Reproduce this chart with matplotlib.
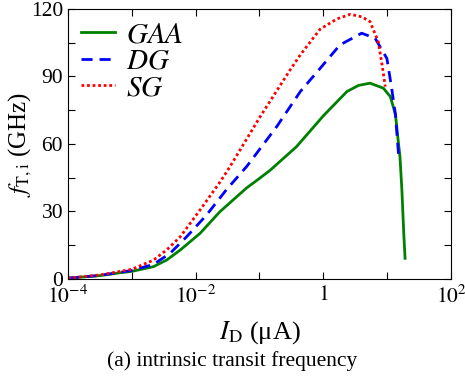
import numpy as np
import matplotlib
matplotlib.use('Agg')
import matplotlib.pyplot as plt

plt.rcParams['font.family'] = ['Liberation Serif', 'DejaVu Serif']
plt.rcParams['mathtext.fontset'] = 'stix'

# log10 of drain current (uA) and intrinsic transit frequency (GHz)
gaaLogI = [-4, -3.5, -3.18, -3, -2.66, -2.45, -2.24, -1.93, -1.62, -1.2, -1.0, -0.83,
           -0.42, 0.0, 0.37, 0.55, 0.73, 0.94, 1.05, 1.13, 1.17, 1.2, 1.23, 1.26, 1.28]
gaaFt = [0.4, 1.5, 2.8, 3.4, 5.5, 8.5, 12.9, 20.3, 29.9, 40.5, 44.7, 48.4,
         58.8, 72.5, 83.3, 86, 87, 84.8, 81, 73, 62, 54.4, 39.6, 20, 9.2]

dgLogI = [-4, -3.5, -3, -2.66, -2.4, -2.14, -1.83, -1.52, -1.2, -0.73, -0.36, -0.05,
          0.26, 0.6, 0.81, 0.995, 1.07, 1.13, 1.18]
dgFt = [0.4, 1.6, 3.8, 6.5, 11.4, 18.8, 28.4, 39.6, 50, 67.7, 83.3, 93.6,
        104, 109.2, 107, 98, 84.8, 72.9, 54.4]

sgLogI = [-4, -3.5, -3, -2.66, -2.45, -2.24, -1.93, -1.62, -1.46, -0.99, -0.52, -0.36,
          -0.05, 0.21, 0.42, 0.6, 0.73, 0.86, 0.92, 0.97]
sgFt = [0.4, 1.8, 4.3, 8.4, 13, 18.8, 30.7, 43, 50, 72.1, 92.9, 99.6,
        111, 115.5, 117.6, 116.5, 114.4, 105.5, 95.1, 85.5]

xTicks = [1e-4, 1e-3, 1e-2, 1e-1, 1, 1e1, 1e2]
xTickLabels = ['$10^{-4}$', '', '$10^{-2}$', '', '$1$', '', '$10^{2}$']
yTicks = [0, 15, 30, 45, 60, 75, 90, 105, 120]
yTickLabels = ['0', '', '30', '', '60', '', '90', '', '120']

fig = plt.figure(figsize=(4.65, 3.87), dpi=100)
ax = fig.add_axes([0.146, 0.279, 0.824, 0.698])

ax.plot(10**np.array(gaaLogI), gaaFt, color='green', lw=2, ls='-', label='$GAA$')
ax.plot(10**np.array(dgLogI), dgFt, color='blue', lw=2, ls=(0, (4, 2.5)), label='$DG$')
ax.plot(10**np.array(sgLogI), sgFt, color='red', lw=2, ls=(0, (1, 1)), label='$SG$')

ax.set_xscale('log')
ax.set_xlim(1e-4, 1e2)
ax.set_ylim(0, 120)
ax.set_xticks(xTicks)
ax.set_xticklabels(xTickLabels)
ax.minorticks_off()
ax.set_yticks(yTicks)
ax.set_yticklabels(yTickLabels)
ax.tick_params(direction='in', top=True, right=True, length=5, labelsize=15.5)
ax.tick_params(axis='x', pad=5)

ax.set_xlabel('$I_{\\mathrm{D}}$ (μA)', fontsize=19)
ax.set_ylabel('$f_{\\mathrm{T,i}}$ (GHz)', fontsize=18)
ax.xaxis.set_label_coords(0.5, -0.2)
ax.yaxis.set_label_coords(-0.125, 0.5)
ax.yaxis.label.set_va('center')
ax.xaxis.label.set_va('center')

ax.legend(loc='upper left', frameon=False, fontsize=21, handlelength=1.15,
          handletextpad=0.4, borderaxespad=0.1, borderpad=0.35, labelspacing=0.0)

fig.text(0.5, 0.067, '(a) intrinsic transit frequency', ha='center', va='center', fontsize=15.5)

fig.savefig('out.png', dpi=100)
